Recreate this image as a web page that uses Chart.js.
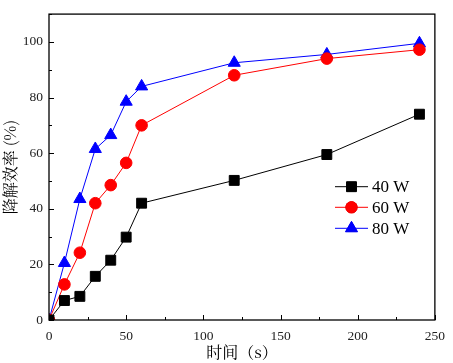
<!DOCTYPE html>
<html>
<head>
<meta charset="utf-8">
<script src="https://cdn.jsdelivr.net/npm/chart.js@4"></script>
<style>
  html, body { margin: 0; padding: 0; background: #fff; }
  #wrap { width: 453px; height: 363px; }
</style>
</head>
<body>
<div id="wrap"><canvas id="c" width="453" height="363"></canvas></div>
<script>
// time (s)
const times = [0, 10, 20, 30, 40, 50, 60, 120, 180, 240];
// degradation efficiency (%)
const eff40 = [0, 7, 8.5, 15.7, 21.5, 29.8, 42, 50.2, 59.5, 74];
const eff60 = [0, 12.8, 24.2, 42, 48.5, 56.5, 70, 88, 94, 97.2];
const eff80 = [0, 20.5, 43.5, 61.5, 66.5, 78.5, 84, 92.5, 95.5, 99.5];
const seriesNames = ["40 W", "60 W", "80 W"];
const xTicks = [0, 50, 100, 150, 200, 250];
const yTicks = [0, 20, 40, 60, 80, 100];

const serif = "'Liberation Serif', 'DejaVu Serif', serif";
const cjk = "'Noto Serif CJK SC', 'Noto Sans CJK SC', serif";

function pts(ys) {
  return times.map((t, i) => ({ x: t, y: ys[i] }));
}

// inward ticks, frame and legend drawn on top
const framePlugin = {
  id: "frame",
  afterDraw(chart) {
    const ctx = chart.ctx;
    const a = chart.chartArea;
    const xs = chart.scales.x, ys = chart.scales.y;
    ctx.save();
    ctx.strokeStyle = "#000";
    ctx.lineWidth = 1.3;
    ctx.strokeRect(a.left, a.top, a.right - a.left, a.bottom - a.top);
    ctx.lineWidth = 1;
    for (let v = 0; v <= 250; v += 25) {
      const px = Math.round(xs.getPixelForValue(v)) + 0.5;
      const len = v % 50 === 0 ? 5 : 3;
      ctx.beginPath();
      ctx.moveTo(px, a.bottom);
      ctx.lineTo(px, a.bottom - len);
      ctx.stroke();
    }
    for (let v = 0; v <= 110; v += 10) {
      const py = Math.round(ys.getPixelForValue(v)) + 0.5;
      const len = v % 20 === 0 ? 5 : 3;
      ctx.beginPath();
      ctx.moveTo(a.left, py);
      ctx.lineTo(a.left + len, py);
      ctx.stroke();
    }

    // legend
    const rows = [186.7, 207.3, 228.3];
    chart.data.datasets.forEach((ds, i) => {
      const y = rows[i];
      ctx.strokeStyle = ds.borderColor;
      ctx.lineWidth = 1;
      ctx.beginPath();
      ctx.moveTo(335, y);
      ctx.lineTo(368, y);
      ctx.stroke();
      Chart.helpers.drawPoint(ctx, {
        pointStyle: ds.pointStyle,
        radius: ds.pointRadius,
        borderWidth: 1
      }, 351.5, y);
      ctx.fillStyle = ds.pointBackgroundColor;
      ctx.strokeStyle = ds.pointBorderColor;
      ctx.fill();
      ctx.fillStyle = "#000";
      ctx.font = "17px " + serif;
      ctx.textBaseline = "middle";
      ctx.textAlign = "left";
      ctx.fillText(ds.label, 372, y + 1);
    });
    ctx.restore();
  }
};

function mkSet(label, ys, color, style, r) {
  return {
    label: label,
    data: pts(ys),
    borderColor: color,
    backgroundColor: color,
    pointBackgroundColor: color,
    pointBorderColor: color,
    borderWidth: 1,
    pointStyle: style,
    pointRadius: r,
    pointBorderWidth: 1,
    tension: 0
  };
}

new Chart(document.getElementById("c"), {
  type: "line",
  data: {
    datasets: [
      mkSet(seriesNames[0], eff40, "#000000", "rect", 7),
      mkSet(seriesNames[1], eff60, "#ff0000", "circle", 5.8),
      mkSet(seriesNames[2], eff80, "#0000ff", "triangle", 7)
    ]
  },
  options: {
    responsive: false,
    animation: false,
    layout: { padding: { left: 0, right: 13, top: 5, bottom: 0 } },
    plugins: { legend: { display: false }, tooltip: { enabled: false } },
    scales: {
      x: {
        type: "linear",
        min: 0, max: 250,
        afterBuildTicks: s => { s.ticks = xTicks.map(v => ({ value: v })); },
        afterFit: s => { s.height = 43; },
        grid: { display: false, drawTicks: false },
        border: { display: false },
        ticks: { color: "#222", padding: 8, font: { family: serif, size: 13.5 }, maxRotation: 0 },
        title: { display: true, text: "时间（s）", color: "#000", padding: { top: 0, bottom: 1 }, font: { family: cjk, size: 16 } }
      },
      y: {
        min: 0, max: 110,
        afterBuildTicks: s => { s.ticks = yTicks.map(v => ({ value: v })); },
        afterFit: s => { s.width = 49; },
        grid: { display: false, drawTicks: false },
        border: { display: false },
        ticks: { color: "#222", padding: 6, font: { family: serif, size: 13.5 } },
        title: { display: true, text: "降解效率 (%)", color: "#000", padding: { top: 0, bottom: 0 }, font: { family: cjk, size: 16 } }
      }
    }
  },
  plugins: [framePlugin]
});
</script>
</body>
</html>
